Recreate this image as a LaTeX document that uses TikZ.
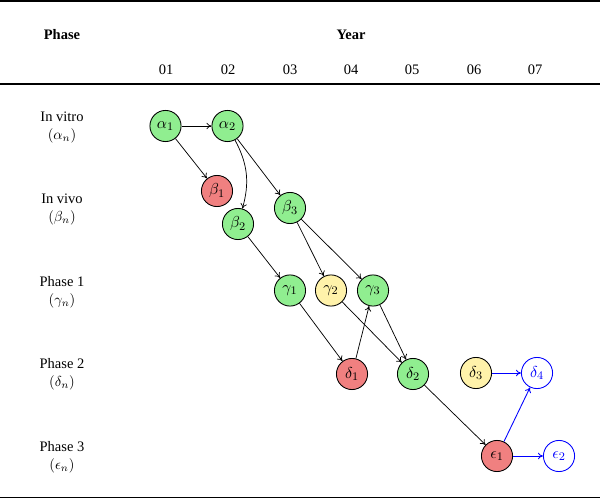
\documentclass[tikz,border=0pt]{standalone}
\usepackage{fontspec}
\setmainfont{Liberation Serif}
\usetikzlibrary{arrows.meta}
\definecolor{ngreen}{RGB}{144,238,144}
\definecolor{nred}{RGB}{240,128,128}
\definecolor{nyellow}{RGB}{255,242,170}
\tikzset{
  ev/.style={circle, draw=black, line width=0.6pt, minimum size=21.5pt, inner sep=0pt, font=\fontsize{11}{13}\selectfont},
  gr/.style={ev, fill=ngreen},
  rd/.style={ev, fill=nred},
  ye/.style={ev, fill=nyellow},
  bl/.style={ev, draw=blue, text=blue, fill=white},
  con/.style={-{To[length=3.5pt,width=4.5pt]}, line width=0.5pt},
  bcon/.style={con, draw=blue, line width=0.6pt},
  lab/.style={font=\normalsize, inner sep=0pt},
  hdr/.style={font=\bfseries\normalsize, inner sep=0pt},
  yr/.style={font=\normalsize, inner sep=0pt},
}
\begin{document}
\begin{tikzpicture}[x=0.69pt, y=-0.69pt]
\useasboundingbox (0,0) rectangle (600,499);
% rules
\draw[line width=1.3pt] (0,1) -- (600,1);
\draw[line width=1pt] (0,84) -- (600,84);
\draw[line width=1.3pt] (0,497.5) -- (600,497.5);
% headers
\node[hdr] (hphase) at (62,35) {Phase};
\node[hdr] (hyear) at (351,35) {Year};
\node[yr] (y1) at (166,70) {01};
\node[yr] (y2) at (228,70) {02};
\node[yr] (y3) at (290,70) {03};
\node[yr] (y4) at (351,70) {04};
\node[yr] (y5) at (412,70) {05};
\node[yr] (y6) at (474,70) {06};
\node[yr] (y7) at (535,70) {07};
% row labels
\node[lab] (r1) at (62,116.5) {In vitro};
\node[lab] (m1) at (62,135.5) {$(\alpha_n)$};
\node[lab] (r2) at (62,199) {In vivo};
\node[lab] (m2) at (62,218) {$(\beta_n)$};
\node[lab] (r3) at (62,281.5) {Phase 1};
\node[lab] (m3) at (62,300.5) {$(\gamma_n)$};
\node[lab] (r4) at (62,364) {Phase 2};
\node[lab] (m4) at (62,383) {$(\delta_n)$};
\node[lab] (r5) at (62,446.5) {Phase 3};
\node[lab] (m5) at (62,465.5) {$(\epsilon_n)$};
% nodes
\node[gr] (a1) at (165.5,126) {$\alpha_1$};
\node[gr] (a2) at (227.5,126) {$\alpha_2$};
\node[rd] (b1) at (217,191) {$\beta_1$};
\node[gr] (b2) at (238,224) {$\beta_2$};
\node[gr] (b3) at (290,208) {$\beta_3$};
\node[gr] (g1) at (290,290.5) {$\gamma_1$};
\node[ye] (g2) at (331,290.5) {$\gamma_2$};
\node[gr] (g3) at (373,290.5) {$\gamma_3$};
\node[rd] (d1) at (352,374) {$\delta_1$};
\node[gr] (d2) at (413,374) {$\delta_2$};
\node[ye] (d3) at (476,373) {$\delta_3$};
\node[bl] (d4) at (537,373) {$\delta_4$};
\node[rd] (e1) at (497,456) {$\epsilon_1$};
\node[bl] (e2) at (559,456) {$\epsilon_2$};
% connectors
\draw[con] (a1) -- (a2);
\draw[con] (a1) -- (b1);
\draw[con] (a2) to[bend left=22] (b2);
\draw[con] (a2) -- (b3);
\draw[con] (b2) -- (g1);
\draw[con] (b3) -- (g2);
\draw[con] (b3) -- (g3);
\draw[con] (g1) -- (d1);
\draw[con] (g2) -- (d2);
\draw[con] (g3) -- (d2);
\draw[con] (d1) -- (g3);
\draw[con] (d2) -- (e1);
\draw[bcon] (d3) -- (d4);
\draw[bcon] (e1) -- (d4);
\draw[bcon] (e1) -- (e2);
\end{tikzpicture}
\end{document}
